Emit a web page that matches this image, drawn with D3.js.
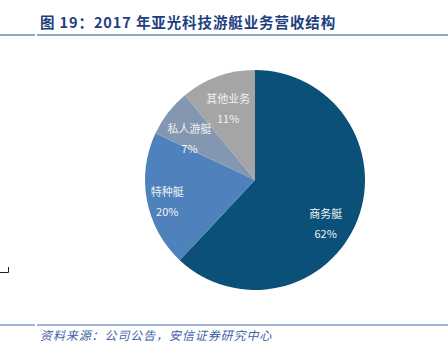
<!DOCTYPE html>
<html><head><meta charset="utf-8">
<script src="https://cdn.jsdelivr.net/npm/d3@7"></script>
<style>body{margin:0;background:#fff;}svg{display:block;}</style>
</head><body>
<svg id="c" width="448" height="358"></svg>
<script>
const categories = ["商务艇", "特种艇", "私人游艇", "其他业务"];
const values = [62, 20, 7, 11];
const colors = ["#0B5079", "#4F81BD", "#8497B0", "#A5A5A5"];
const title = "图 19：2017 年亚光科技游艇业务营收结构";
const source = "资料来源：公司公告，安信证券研究中心";

const svg = d3.select("#c");
const font = "'Noto Sans CJK SC', 'Noto Sans', sans-serif";

svg.append("text").attr("x", 40).attr("y", 28)
  .attr("font-family", font).attr("font-weight", "bold").attr("font-size", 14.5)
  .attr("letter-spacing", 0.9)
  .attr("fill", "#1F3F80").text(title);
svg.append("line").attr("x1", 0).attr("x2", 35).attr("y1", 35).attr("y2", 35).attr("stroke", "#2E4C8C").attr("stroke-width", 1.2);
svg.append("line").attr("x1", 37).attr("x2", 448).attr("y1", 35).attr("y2", 35).attr("stroke", "#2E4C8C").attr("stroke-width", 1.2);

svg.append("line").attr("x1", 0).attr("x2", 35).attr("y1", 325).attr("y2", 325).attr("stroke", "#4A6FB0").attr("stroke-width", 1.2);
svg.append("line").attr("x1", 37).attr("x2", 448).attr("y1", 325).attr("y2", 325).attr("stroke", "#4A6FB0").attr("stroke-width", 1.2);
svg.append("text").attr("x", 40).attr("y", 340)
  .attr("font-family", font).attr("font-style", "italic").attr("font-size", 12)
  .attr("letter-spacing", 0.9)
  .attr("fill", "#3E62A8").text(source);

// small artifact bracket at left
svg.append("path").attr("d", "M0,272.5H8.5V267").attr("fill", "none").attr("stroke", "#222").attr("stroke-width", 1);

const cx = 255, cy = 180, r = 110;
const pie = d3.pie().sort(null).value(d => d)(values);
const arc = d3.arc().innerRadius(0).outerRadius(r);
const g = svg.append("g").attr("transform", `translate(${cx},${cy})`);
g.selectAll("path").data(pie).join("path")
  .attr("d", arc).attr("fill", (d, i) => colors[i]);

const labelArc = d3.arc().innerRadius(r * 0.72).outerRadius(r * 0.72);
const nudges = [[-3, 12], [-10, 4], [-3, 5], [0, 1]];
g.selectAll("g.lab").data(pie).join("g").attr("class", "lab")
  .attr("transform", (d, i) => {
    const c = labelArc.centroid(d);
    return `translate(${c[0] + nudges[i][0]},${c[1] + nudges[i][1]})`;
  })
  .each(function(d, i) {
    const s = d3.select(this);
    s.append("text").attr("y", -3).attr("text-anchor", "middle")
      .attr("font-family", font).attr("font-size", 11).attr("fill", "#F2F2F2")
      .text(categories[i]);
    s.append("text").attr("y", 17).attr("text-anchor", "middle")
      .attr("font-family", font).attr("font-size", 11).attr("fill", "#F2F2F2")
      .text(values[i] + "%");
  });
</script>
</body></html>
